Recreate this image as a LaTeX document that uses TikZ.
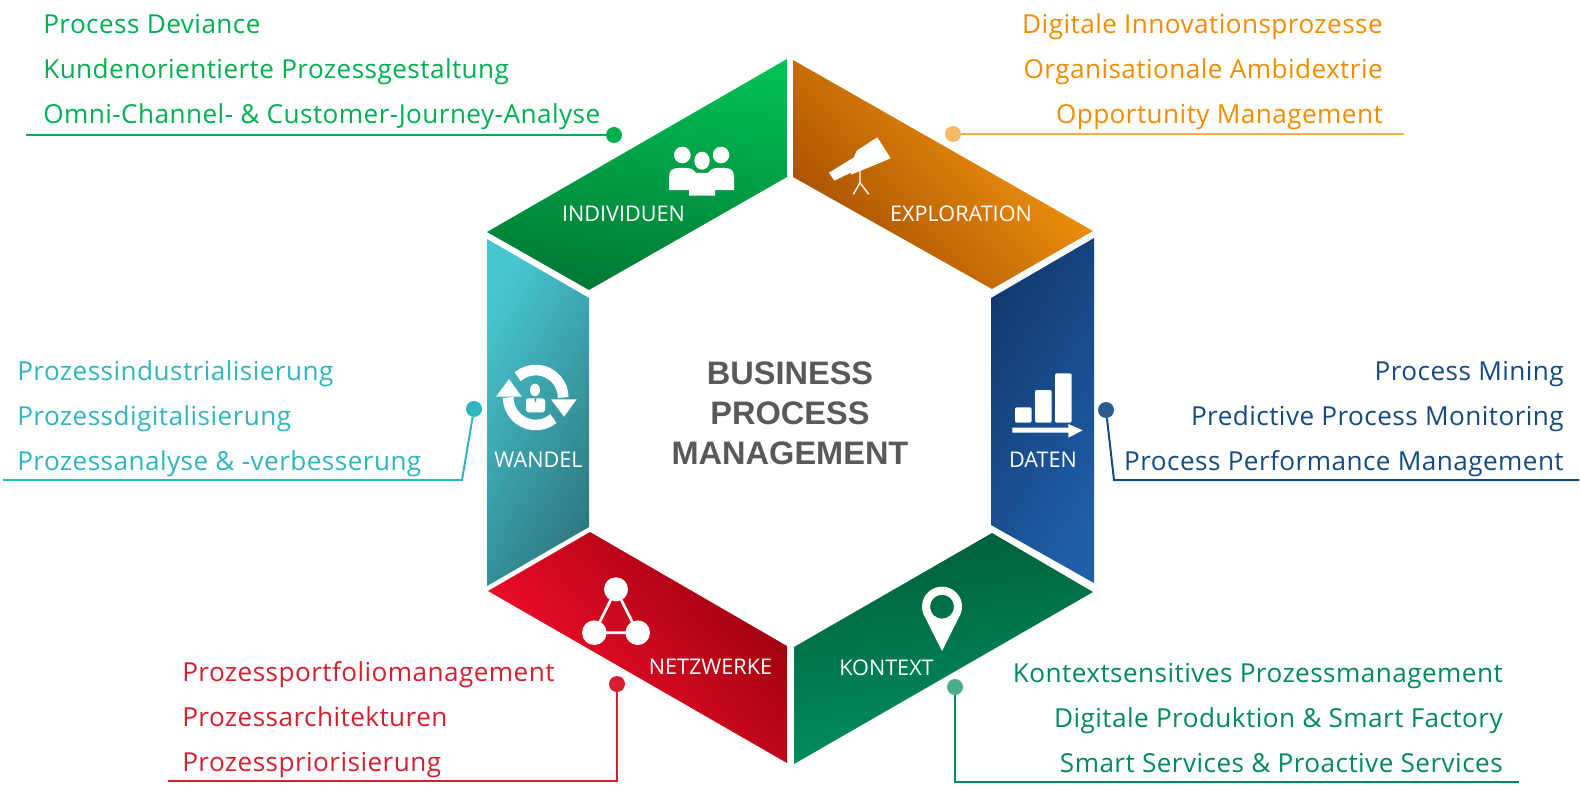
\documentclass[tikz,border=0pt]{standalone}
\usepackage{xcolor}
\usepackage{fontspec}
\setmainfont{Open Sans}
\newfontfamily\listfont{Open Sans}[LetterSpace=1.7]
\newfontfamily\titlefont{Liberation Sans}
\definecolor{txtgreen}{HTML}{00AF50}
\definecolor{txtorange}{HTML}{F28C00}
\definecolor{txtteal}{HTML}{2FB5BD}
\definecolor{txtblue}{HTML}{154A80}
\definecolor{txtred}{HTML}{D81E2E}
\definecolor{txtkontext}{HTML}{008A5A}
\definecolor{txttitle}{HTML}{595959}
\definecolor{indivlight}{HTML}{00C054}
\definecolor{indivdark}{HTML}{007834}
\definecolor{explolight}{HTML}{FFA010}
\definecolor{explodark}{HTML}{A54E00}
\definecolor{wandellight}{HTML}{47C6D0}
\definecolor{wandeldark}{HTML}{2E7A82}
\definecolor{datendark}{HTML}{123A70}
\definecolor{datenlight}{HTML}{1F5EA8}
\definecolor{netzlight}{HTML}{FF1030}
\definecolor{netzdark}{HTML}{9B000D}
\definecolor{kontextdark}{HTML}{005F3A}
\definecolor{kontextlight}{HTML}{009160}
\tikzset{
  listentry/.style={inner sep=0pt,font=\listfont\fontsize{19.6}{24}\selectfont},
  iconlabel/.style={inner sep=0pt,white,anchor=base,font=\fontsize{16.2}{20}\selectfont},
  leader/.style={line width=1.5pt},
  leaderdot/.style={circle,inner sep=0pt,minimum size=12pt}
}
\begin{document}
\begin{tikzpicture}[x=0.75pt,y=-0.75pt]
\useasboundingbox (0,0) rectangle (1580,795);

% Segments
\shade[top color=indivlight,bottom color=indivdark,shading angle=-8] (787,59) -- (787,177) -- (589,290) -- (487,232) -- cycle;
\shade[top color=explolight,bottom color=explodark,shading angle=-48] (793,60) -- (793,177) -- (992,289) -- (1093,231) -- cycle;
\shade[top color=wandellight,bottom color=wandeldark,shading angle=60] (487,239) -- (589,298) -- (589,527) -- (487,586) -- cycle;
\shade[top color=datendark,bottom color=datenlight,shading angle=60] (1094,238) -- (991,298) -- (991,525) -- (1094,583) -- cycle;
\shade[top color=netzdark,bottom color=netzlight,shading angle=-50] (488,591) -- (590,532) -- (787,646) -- (787,763) -- cycle;
\shade[top color=kontextdark,bottom color=kontextlight,shading angle=8] (992,533) -- (1093,592) -- (794,764) -- (794,647) -- cycle;

% Title
\node[align=center,inner sep=0pt,text=txttitle,font=\titlefont\bfseries\fontsize{24.4}{30}\selectfont] (title) at (790,413) {BUSINESS\\PROCESS\\MANAGEMENT};

% Segment labels
\node[iconlabel] (lblindividuen) at (623.5,221) {INDIVIDUEN};
\node[iconlabel] (lblexploration) at (961,221) {EXPLORATION};
\node[iconlabel] (lblwandel) at (538.5,467) {WANDEL};
\node[iconlabel] (lbldaten) at (1043,467) {DATEN};
\node[iconlabel] (lblnetzwerke) at (710.5,674) {NETZWERKE};
\node[iconlabel] (lblkontext) at (886.5,675) {KONTEXT};

% People icon
\fill[white] (682.3,155) circle (8.3);
\fill[white] (721,155) circle (8.3);
\fill[white] (702,160.7) ellipse (7.7 and 9);
\fill[white] (669,190) -- (669,177) .. controls (669,171) and (672,168) .. (678,168) -- (687,168) .. controls (691,168) and (694,170) .. (696,173) -- (708,173) .. controls (710,170) and (713,168) .. (717,168) -- (725,168) .. controls (731,168) and (734,171) .. (734,177) -- (734,190) -- (715,190) -- (715,195.7) -- (689,195.7) -- (689,190) -- cycle;

% Telescope icon
\fill[white] (829,172.7) -- (854,157.3) -- (856.7,150.7) -- (877.3,137.3) -- (890.7,158.3) -- (866.7,168.3) -- (851,174.7) -- (850.7,172.7) -- (834.3,180.7) -- cycle;
\draw[white,line width=1pt] (860,169.3) -- (860,182.7) -- (853.3,194.3) (860,182.7) -- (868.7,194.3);

% Turnaround icon
\draw[white,line width=8pt] (535.7,397.5) ++(-131:27.5) arc (-131:0:27.5);
\draw[white,line width=8pt] (535.7,397.5) ++(50:27.5) arc (50:180:27.5);
\fill[white] (551,399.3) -- (576.7,399.3) -- (564,416.7) -- cycle;
\fill[white] (496,396.7) -- (521.7,396.7) -- (509,379) -- cycle;
\fill[white] (535,390) ellipse (5 and 6.3);
\fill[white,rounded corners=2pt] (526,412.3) -- (526,398.3) -- (545,398.3) -- (545,412.3) -- cycle;
\fill[wandeldark!70!wandellight] (534.5,398.3) -- (536.5,398.3) -- (536,402) -- (535,402) -- cycle;

% Bars icon
\fill[white,rounded corners=1.5pt] (1015,407.3) rectangle (1031.7,422.7);
\fill[white,rounded corners=1.5pt] (1035,390) rectangle (1051.7,422.7);
\fill[white,rounded corners=1.5pt] (1055,373.3) rectangle (1071.7,422.7);
\fill[white] (1012.3,427.7) -- (1068.3,427.7) -- (1068.3,424) -- (1082.7,430.3) -- (1068.3,437.7) -- (1068.3,432.7) -- (1012.3,432.7) -- cycle;

% Network icon
\draw[white,line width=2pt] (616,589.3) -- (594.3,632.7) -- (637.7,632.7) -- cycle;
\fill[white] (616,589.3) circle (12);
\fill[white] (594.3,632.7) circle (12.3);
\fill[white] (637.7,632.7) circle (12.3);

% Pin icon
\fill[white,even odd rule] (942,651) -- (923.2,613.5) arc (160:380:20) -- cycle (942,606.7) circle (12);

% Individuen list
\node[listentry,anchor=base west,txtgreen] (indiv1) at (43,33.5) {Process Deviance};
\node[listentry,anchor=base west,txtgreen] (indiv2) at (43,79) {Kundenorientierte Prozessgestaltung};
\node[listentry,anchor=base west,txtgreen] (indiv3) at (43,124) {Omni-Channel- \& Customer-Journey-Analyse};
\node[leaderdot,fill=txtgreen] (dotindiv) at (614,135) {};
\coordinate (endindiv) at (26,135);
\draw[leader,txtgreen] (dotindiv) -- (endindiv);

% Exploration list
\node[listentry,anchor=base east,txtorange] (explo1) at (1383,33.5) {Digitale Innovationsprozesse};
\node[listentry,anchor=base east,txtorange] (explo2) at (1383,79) {Organisationale Ambidextrie};
\node[listentry,anchor=base east,txtorange] (explo3) at (1383,124) {Opportunity Management};
\node[leaderdot,fill=txtorange!60] (dotexplo) at (953,134) {};
\coordinate (endexplo) at (1404,134);
\draw[leader,txtorange!70] (dotexplo) -- (endexplo);

% Wandel list
\node[listentry,anchor=base west,txtteal] (wandel1) at (17,380) {Prozessindustrialisierung};
\node[listentry,anchor=base west,txtteal] (wandel2) at (17,425) {Prozessdigitalisierung};
\node[listentry,anchor=base west,txtteal] (wandel3) at (17,470) {Prozessanalyse \& -verbesserung};
\node[leaderdot,fill=txtteal] (dotwandel) at (474,409) {};
\coordinate (kneewandel) at (462,480);
\coordinate (endwandel) at (3,480);
\draw[leader,txtteal] (dotwandel) -- (kneewandel) -- (endwandel);

% Daten list
\node[listentry,anchor=base east,txtblue] (daten1) at (1564,380) {Process Mining};
\node[listentry,anchor=base east,txtblue] (daten2) at (1564,425) {Predictive Process Monitoring};
\node[listentry,anchor=base east,txtblue] (daten3) at (1564,470) {Process Performance Management};
\node[leaderdot,fill=txtblue!90] (dotdaten) at (1106,410) {};
\coordinate (kneedaten) at (1114,480);
\coordinate (enddaten) at (1579,480);
\draw[leader,txtblue] (dotdaten) -- (kneedaten) -- (enddaten);

% Netzwerke list
\node[listentry,anchor=base west,txtred] (netz1) at (182,681) {Prozessportfoliomanagement};
\node[listentry,anchor=base west,txtred] (netz2) at (182,726) {Prozessarchitekturen};
\node[listentry,anchor=base west,txtred] (netz3) at (182,771) {Prozesspriorisierung};
\node[leaderdot,fill=txtred] (dotnetz) at (617,684) {};
\coordinate (kneenetz) at (617,781);
\coordinate (endnetz) at (168,781);
\draw[leader,txtred] (dotnetz) -- (kneenetz) -- (endnetz);

% Kontext list
\node[listentry,anchor=base east,txtkontext] (kontext1) at (1503,682) {Kontextsensitives Prozessmanagement};
\node[listentry,anchor=base east,txtkontext] (kontext2) at (1503,727) {Digitale Produktion \& Smart Factory};
\node[listentry,anchor=base east,txtkontext] (kontext3) at (1503,772) {Smart Services \& Proactive Services};
\node[leaderdot,fill=txtkontext!70] (dotkontext) at (955,687) {};
\coordinate (kneekontext) at (955,782);
\coordinate (endkontext) at (1519,782);
\draw[leader,txtkontext] (dotkontext) -- (kneekontext) -- (endkontext);
\end{tikzpicture}
\end{document}
